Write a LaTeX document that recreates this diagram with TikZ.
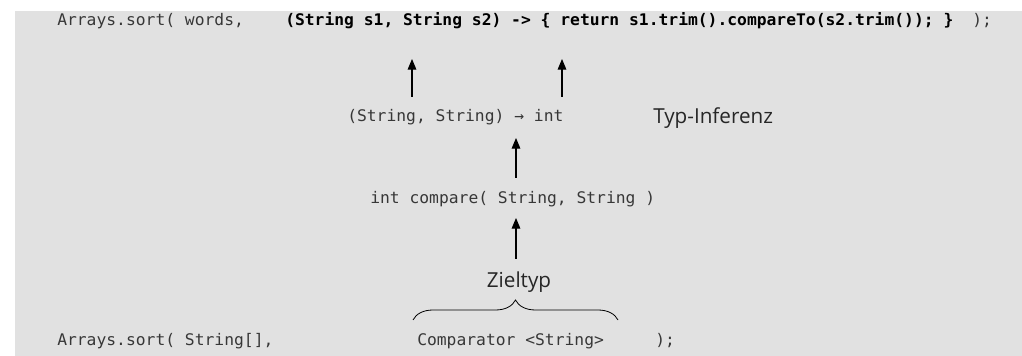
\documentclass[tikz,border=0pt]{standalone}
\usepackage{fontspec}
\setmonofont[FakeStretch=1.02]{DejaVu Sans Mono}
\newfontfamily\notefont{Open Sans}
\usetikzlibrary{arrows.meta, decorations.pathreplacing}
\definecolor{panelgray}{RGB}{225,225,225}
\definecolor{codegray}{RGB}{55,55,55}

\tikzset{
  code/.style={anchor=base west, inner sep=0pt, text=codegray,
    font=\ttfamily\fontsize{12pt}{14pt}\selectfont},
  boldcode/.style={code, text=black,
    font=\ttfamily\bfseries\fontsize{12pt}{14pt}\selectfont},
  note/.style={anchor=base west, inner sep=0pt, text=black!85,
    font=\notefont\fontsize{15.5pt}{18pt}\selectfont},
  uparrow/.style={-{Triangle[length=8pt,width=6.5pt]}, line width=0.8pt},
}

\begin{document}
\begin{tikzpicture}[x=0.75pt, y=-0.75pt]
    \useasboundingbox (0,0) rectangle (1022,356);
    \fill[panelgray] (15,11) rectangle (1022,356);

    % call with the lambda
    \node[code] (call) at (57,26) {Arrays.sort( words,};
    \node[boldcode] (lambda) at (285,26) {(String s1, String s2) -> \{ return s1.trim().compareTo(s2.trim()); \}};
    \node[code] (close) at (972,26) {);};

    % inferred types
    \node[code] (sig) at (347,121.5) {(String, String) → int};
    \node[note] (infer) at (653,124) {Typ-Inferenz};
    \node[code] (method) at (370,204) {int compare( String, String )};
    \node[note, anchor=base] (target) at (519,287) {Zieltyp};

    % call with the target type
    \node[code] (call2) at (57,345) {Arrays.sort( String[],};
    \node[code] (comp) at (417,345) {Comparator <String>};
    \node[code] (close2) at (655,345) {);};

    % arrow ends
    \coordinate (params) at (412,59);
    \coordinate (body) at (562,59);
    \coordinate (sigleft) at (412,97);
    \coordinate (sigright) at (562,97);
    \coordinate (sigbot) at (516,138);
    \coordinate (methtop) at (516,178);
    \coordinate (methbot) at (516,218);
    \coordinate (targettop) at (516,259);

    \draw[uparrow] (sigleft) -- (params);
    \draw[uparrow] (sigright) -- (body);
    \draw[uparrow] (methtop) -- (sigbot);
    \draw[uparrow] (targettop) -- (methbot);

    \draw[decorate, decoration={brace, amplitude=15pt}, line width=0.6pt]
        (413,320) -- (618,320);
\end{tikzpicture}
\end{document}
